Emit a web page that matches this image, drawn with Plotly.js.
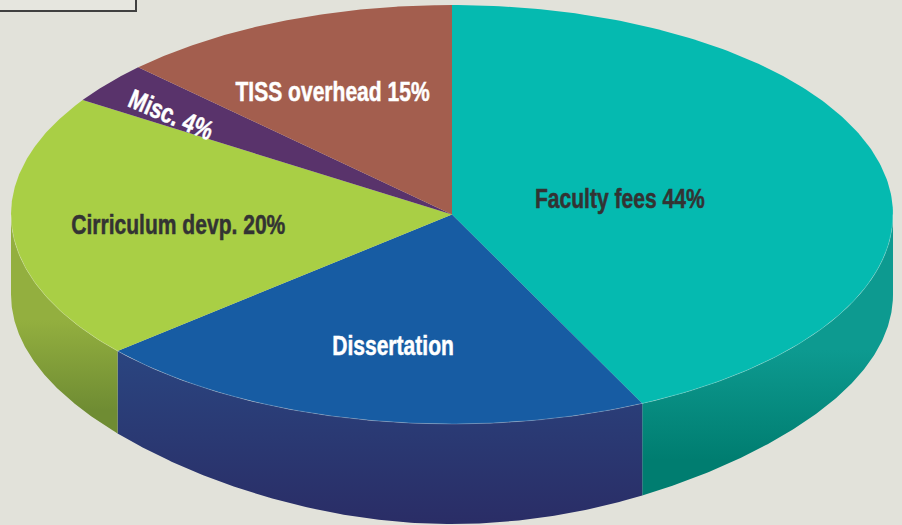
<!DOCTYPE html>
<html>
<head>
<meta charset="utf-8">
<script src="https://cdn.plot.ly/plotly-3.0.1.min.js"></script>
<style>html,body{margin:0;padding:0;background:#e2e2da}</style>
</head>
<body>
<div id="chart" style="width:902px;height:525px"></div>
<script>
// Slice shares as drawn in the picture, clockwise from 12 o'clock
var categories = ['Faculty fees', 'Dissertation', 'Cirriculum devp.', 'Misc.', 'TISS overhead'];
var drawnShares = [42.9, 20.8, 20.5, 3.2, 12.6];
var sliceLabels = ['Faculty fees 44%', 'Dissertation', 'Cirriculum devp. 20%', 'Misc. 4%', 'TISS overhead 15%'];
var topColors = ['#05bab0', '#175ca3', '#a9cf45', '#59336b', '#a35e4e'];
var rimTopColors = ['#0d9a90', '#2a4580', '#93af3f', '#59336b', '#a35e4e'];
var rimBottomColors = ['#007d70', '#2a2d66', '#6f8c33', '#59336b', '#a35e4e'];
var labelColors = ['#333333', '#ffffff', '#333333', '#ffffff', '#ffffff'];
var labelX = [0.38, -0.134, -0.62, -0.637, -0.27];
var labelY = [0.076, -0.629, -0.052, 0.476, 0.586];
var labelAngles = [0, 0, 0, 23, 0];

var W = 902, H = 525, CX = 452, CY = 214.5, RX = 441, RY = 209.5;

function rimDepth(a) {
  var s = Math.abs(Math.cos(a));
  return (80 + 20 * Math.pow(s, 5)) / RY;
}
function range(a0, a1, n) {
  var out = [];
  for (var i = 0; i <= n; i++) out.push(a0 + (a1 - a0) * i / n);
  return out;
}

var traces = [];
var total = drawnShares.reduce(function (p, c) { return p + c; }, 0);
var acc = 0, bounds = [];
drawnShares.forEach(function (v) {
  var a0 = acc / total * 2 * Math.PI;
  acc += v;
  bounds.push([a0, acc / total * 2 * Math.PI]);
});

// Side wall: only the front half (angles from 90deg to 270deg)
var gradTop = [350, 351, 320], gradBot = [460, 524, 410];
bounds.forEach(function (b, i) {
  var a0 = Math.max(b[0], Math.PI / 2), a1 = Math.min(b[1], 3 * Math.PI / 2);
  if (a1 <= a0) return;
  var as = range(a0, a1, 160);
  var xs = [], ys = [];
  as.forEach(function (a) { xs.push(Math.sin(a)); ys.push(Math.cos(a)); });
  as.slice().reverse().forEach(function (a) {
    xs.push(Math.sin(a)); ys.push(Math.cos(a) - rimDepth(a));
  });
  xs.push(xs[0]); ys.push(ys[0]);
  traces.push({
    type: 'scatter', mode: 'lines', x: xs, y: ys, fill: 'toself',
    line: { width: 0, color: rimTopColors[i] },
    fillgradient: {
      type: 'vertical', start: (CY - gradTop[i]) / RY, stop: (CY - gradBot[i]) / RY,
      colorscale: [[0, rimTopColors[i]], [1, rimBottomColors[i]]]
    },
    hoverinfo: 'skip', showlegend: false
  });
});

// Top face
bounds.forEach(function (b, i) {
  var xs = [0], ys = [0];
  range(b[0], b[1], 200).forEach(function (a) { xs.push(Math.sin(a)); ys.push(Math.cos(a)); });
  xs.push(0); ys.push(0);
  traces.push({
    type: 'scatter', mode: 'lines', x: xs, y: ys, fill: 'toself',
    fillcolor: topColors[i], line: { width: 0, color: topColors[i] },
    name: categories[i], hoverinfo: 'name', showlegend: false
  });
});

// Thin highlight along the front edge of the top face
var hx = [], hy = [];
range(Math.PI / 2, 3 * Math.PI / 2, 300).forEach(function (a) { hx.push(Math.sin(a)); hy.push(Math.cos(a)); });
traces.push({
  type: 'scatter', mode: 'lines', x: hx, y: hy,
  line: { width: 0.8, color: 'rgba(255,255,255,0.28)' }, hoverinfo: 'skip', showlegend: false
});

var annotations = sliceLabels.map(function (t, i) {
  return {
    text: '<b>' + t + '</b>', x: labelX[i], y: labelY[i], xref: 'x', yref: 'y',
    showarrow: false, textangle: labelAngles[i],
    font: { family: '"Liberation Sans",sans-serif', size: 27, color: labelColors[i] }
  };
});

var layout = {
  width: W, height: H,
  margin: { l: 0, r: 0, t: 0, b: 0 },
  paper_bgcolor: '#e2e2da', plot_bgcolor: '#e2e2da',
  showlegend: false,
  xaxis: { range: [-CX / RX, (W - CX) / RX], visible: false, fixedrange: true },
  yaxis: { range: [(CY - H) / RY, CY / RY], visible: false, fixedrange: true },
  annotations: annotations,
  shapes: [{
    type: 'rect', xref: 'paper', yref: 'paper',
    x0: -0.01, x1: 136 / W, y0: 1 - 11 / H, y1: 1.01,
    line: { color: '#404040', width: 2 }, fillcolor: '#e6e6df'
  }]
};
Plotly.newPlot('chart', traces, layout, { displayModeBar: false, staticPlot: true }).then(function () {
  // The reference lettering is a condensed bold face: narrow the real text in place
  document.querySelectorAll('#chart text.annotation-text').forEach(function (t) {
    t.style.transformBox = 'fill-box';
    t.style.transformOrigin = 'center';
    t.style.transform = 'scale(0.78,1)';
    t.style.stroke = t.style.fill;
    t.style.strokeWidth = '0.5px';
  });
});
</script>
</body>
</html>
